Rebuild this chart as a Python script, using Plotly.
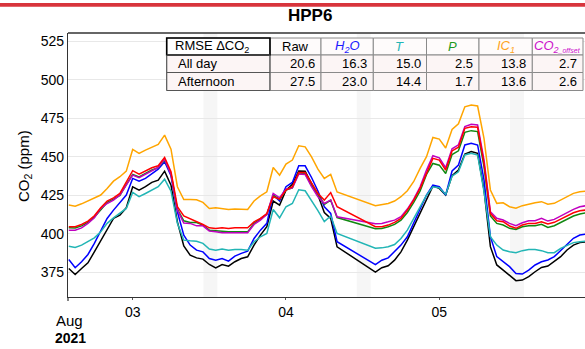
import pandas as pd
import plotly.graph_objects as go

# Hours since 2021-08-02 00:00 (hourly means; no data between 08:00 and 14:00 on Aug 4)
hours = list(range(14, 57)) + list(range(62, 96))

raw = [377.5, 373.6, 377.5, 381.2, 388.3, 395.5, 403.5, 410.0, 412.2, 416.9,
       430.6, 428.4, 430.6, 433.4, 434.9, 440.7, 431.6, 407.8, 392.2, 386.2,
       384.4, 383.6, 380.1, 377.9, 380.1, 379.0, 381.9, 384.0, 385.1, 392.7,
       399.2, 404.6, 421.3, 418.7, 428.4, 432.1, 440.8, 440.6, 432.7, 425.2,
       413.8, 410.0, 391.6,
       375.2, 378.0, 379.3, 382.9, 388.3, 395.9, 404.6, 413.3, 423.0, 431.0,
       429.5, 425.2, 437.8, 441.4, 451.8, 453.4, 452.3, 428.5, 391.7, 379.8,
       376.5, 373.3, 369.6, 370.0, 372.2, 375.4, 378.2, 379.1, 381.9, 385.2,
       389.5, 392.7, 394.3, 394.9]
h2o = [383.4, 378.0, 381.9, 386.6, 393.8, 402.4, 410.0, 415.4, 420.4, 425.2,
       436.0, 434.2, 436.0, 439.2, 442.0, 446.8, 437.7, 414.3, 399.2, 392.7,
       389.4, 388.3, 384.0, 382.9, 384.0, 382.3, 385.5, 387.3, 388.8, 397.0,
       402.4, 406.8, 425.2, 421.3, 430.6, 433.4, 444.2, 444.2, 436.6, 427.8,
       417.6, 413.3, 394.9,
       380.0, 382.9, 384.4, 388.3, 392.7, 398.1, 406.8, 415.4, 425.2, 431.6,
       430.6, 425.2, 440.8, 444.7, 457.7, 458.8, 457.7, 435.0, 398.2, 385.2,
       381.9, 378.7, 374.3, 373.9, 376.5, 379.8, 381.9, 383.0, 385.2, 389.1,
       393.4, 397.1, 399.2, 399.9]
temp = [392.0, 391.2, 392.7, 394.8, 397.4, 401.3, 406.8, 410.4, 413.2, 416.5,
        426.9, 424.1, 426.2, 428.4, 430.6, 435.5, 427.7, 406.8, 395.9, 395.5,
        395.2, 393.8, 390.1, 389.4, 390.1, 389.4, 389.9, 389.9, 389.4, 394.8,
        398.1, 400.3, 415.8, 410.4, 417.6, 419.7, 428.6, 428.0, 421.9, 415.1,
        407.9, 411.6, 400.3,
        390.7, 390.9, 391.6, 393.1, 397.0, 402.4, 410.0, 417.6, 425.2, 430.6,
        429.9, 425.6, 437.4, 440.3, 451.2, 452.3, 451.2, 427.4, 398.2, 392.7,
        389.5, 388.4, 387.8, 389.1, 389.9, 389.9, 389.1, 387.8, 387.8, 390.6,
        392.7, 394.3, 394.9, 395.3]
pres = [404.0, 403.8, 405.2, 407.5, 410.8, 415.8, 420.4, 422.5, 425.0, 432.0,
        438.6, 436.9, 439.0, 441.5, 443.0, 447.9, 439.0, 416.0, 408.5, 407.4,
        407.4, 405.7, 402.4, 402.0, 401.8, 401.3, 401.3, 401.3, 401.3, 406.8,
        409.6, 412.6, 425.2, 422.5, 428.4, 429.9, 439.7, 439.0, 431.7, 425.2,
        419.1, 421.9, 410.6,
        403.3, 403.5, 404.6, 406.1, 408.9, 413.9, 420.4, 427.8, 438.6, 445.7,
        444.6, 439.2, 451.5, 453.9, 465.9, 467.0, 466.4, 443.6, 411.6, 406.8,
        405.7, 403.6, 402.9, 404.6, 405.3, 405.3, 406.2, 404.2, 405.3, 407.5,
        409.6, 411.6, 412.9, 413.7]
ic1 = [418.7, 418.0, 419.5, 421.3, 423.0, 425.2, 429.5, 434.2, 437.1, 440.7,
       454.8, 452.2, 454.4, 456.5, 458.1, 464.1, 455.0, 430.6, 422.3, 422.3,
       422.1, 420.4, 416.5, 416.9, 416.5, 415.8, 416.1, 416.1, 415.8, 421.3,
       424.7, 427.3, 443.1, 438.1, 445.3, 447.9, 457.2, 456.5, 450.0, 442.0,
       436.0, 438.6, 427.2,
       418.2, 419.1, 419.7, 421.3, 424.1, 428.0, 434.0, 442.5, 450.1, 462.6,
       461.5, 455.7, 467.8, 471.5, 482.5, 483.7, 483.0, 462.0, 428.5, 419.8,
       420.2, 417.6, 416.6, 418.3, 419.4, 420.2, 420.9, 419.2, 419.8, 422.0,
       424.1, 426.3, 427.4, 427.8]
offset = [402.4, 402.4, 403.9, 406.8, 410.4, 416.5, 419.7, 421.9, 425.2, 431.5,
          438.1, 436.4, 438.6, 441.2, 443.1, 448.5, 438.6, 415.4, 407.0, 406.8,
          405.2, 405.2, 401.8, 401.3, 400.7, 400.7, 400.7, 400.7, 400.7, 406.1,
          408.9, 412.6, 426.2, 423.4, 429.0, 429.9, 438.8, 438.6, 430.6, 424.1,
          419.7, 422.0, 411.1,
          406.6, 406.8, 407.8, 408.9, 411.1, 416.1, 422.6, 430.6, 441.4, 450.7,
          449.4, 442.9, 455.2, 457.8, 469.6, 471.1, 470.7, 448.0, 414.4, 410.1,
          409.0, 406.8, 405.3, 407.2, 408.5, 408.5, 410.1, 408.3, 409.4, 411.6,
          413.7, 415.9, 417.6, 418.3]
reference = [404.6, 404.6, 406.1, 408.3, 411.7, 416.9, 421.3, 423.4, 426.2, 433.4,
             441.0, 438.8, 440.7, 442.9, 444.2, 449.6, 440.3, 417.6, 411.7, 410.0,
             407.8, 406.1, 403.9, 403.5, 403.9, 403.5, 403.9, 403.9, 403.9, 407.8,
             410.0, 413.2, 424.1, 422.5, 428.4, 430.6, 439.9, 439.9, 433.4, 426.2,
             421.9, 426.8, 417.6,
             404.6, 404.6, 405.7, 407.4, 410.0, 415.4, 421.9, 429.5, 439.9, 449.0,
             447.9, 441.4, 453.8, 456.3, 468.5, 469.6, 469.2, 445.8, 413.3, 408.5,
             407.9, 405.1, 403.6, 405.7, 406.8, 406.8, 407.9, 406.4, 407.5, 409.4,
             411.6, 413.7, 415.0, 415.5]

# RMSE table
table_cols = ["Raw", "H<sub>2</sub>O", "T", "P", "IC<sub>1</sub>",
              "CO<sub>2<span style='font-size:7px'>_offset</span></sub>"]
table_col_colors = ["#000000", "#1a1aff", "#22b5b5", "#1f9a1f", "#ffa31a", "#cc11cc"]
table_rows = ["All day", "Afternoon"]
rmse_all_day = [20.6, 16.3, 15.0, 2.5, 13.8, 2.7]
rmse_afternoon = [27.5, 23.0, 14.4, 1.7, 13.6, 2.6]

# Midday shading windows (start, end)
bands = [("2021-08-03 11:05", "2021-08-03 13:15"),
         ("2021-08-04 11:05", "2021-08-04 13:15"),
         ("2021-08-05 11:05", "2021-08-05 13:15")]

t0 = pd.Timestamp("2021-08-02")
times = [t0 + pd.Timedelta(hours=h) for h in hours]

series = [
    ("Raw", raw, "#000000"),
    ("H2O", h2o, "#0000ff"),
    ("T", temp, "#22b5b5"),
    ("P", pres, "#118811"),
    ("IC1", ic1, "#ffa500"),
    ("CO2_offset", offset, "#c000c0"),
    ("Reference", reference, "#ff0000"),
]

W_FIG, H_FIG = 585, 349
L, R, T, B = 68, 585, 33, 297
FONT = "Liberation Sans, Arial, sans-serif"


def px(x):
    return (x - L) / (R - L)


def py(y):
    return (B - y) / (B - T)


fig = go.Figure()
for name, vals, col in series:
    fig.add_trace(go.Scatter(x=times, y=vals, mode="lines", name=name,
                             line=dict(color=col, width=1.5), showlegend=False))

shapes = []
for s, e in bands:
    shapes.append(dict(type="rect", xref="x", yref="paper", x0=s, x1=e, y0=0, y1=1,
                       fillcolor="#f6f6f6", line=dict(width=0), layer="below"))

# top frame line and red separator strip
shapes.append(dict(type="line", xref="paper", yref="paper", x0=0, x1=1, y0=1, y1=1,
                   line=dict(color="#333333", width=1.3)))
shapes.append(dict(type="rect", xref="paper", yref="paper", x0=px(-2), x1=px(590),
                   y0=py(6.7), y1=py(3), fillcolor="#d8343c", line=dict(width=0)))
# left-edge tick
shapes.append(dict(type="line", xref="paper", yref="paper", x0=0, x1=0, y0=py(297), y1=py(301),
                   line=dict(color="#333333", width=1.2)))

# table geometry
col_edges = [166.7, 270, 321, 373.3, 426.5, 479, 532.3, 583]
row_edges = [38, 55, 72.5, 90.5]
for r in range(3):
    for c in range(7):
        if r == 0:
            fill = "#ffffff" if c == 0 else "#fefbfb"
        else:
            fill = "#fcf5f5"
        shapes.append(dict(type="rect", xref="paper", yref="paper",
                           x0=px(col_edges[c]), x1=px(col_edges[c + 1]),
                           y0=py(row_edges[r + 1]), y1=py(row_edges[r]),
                           fillcolor=fill, line=dict(color="#8a8a8a", width=1), layer="above"))
# first column darker borders
for r in range(3):
    shapes.append(dict(type="rect", xref="paper", yref="paper",
                       x0=px(col_edges[0]), x1=px(col_edges[1]),
                       y0=py(row_edges[r + 1]), y1=py(row_edges[r]),
                       line=dict(color="#000000" if r == 0 else "#555555",
                                 width=1.6 if r == 0 else 1), layer="above"))

annotations = []
fs = 13
annotations.append(dict(text="RMSE ΔCO<sub>2</sub>", x=px(col_edges[0] + 6),
                        y=py((row_edges[0] + row_edges[1]) / 2), xanchor="left", yanchor="middle",
                        xref="paper", yref="paper", showarrow=False,
                        font=dict(size=fs, color="#000000", family=FONT)))
for c, (lab, colr) in enumerate(zip(table_cols, table_col_colors)):
    txt = lab if c == 0 else "<i>" + lab + "</i>"
    annotations.append(dict(text=txt, x=px((col_edges[c + 1] + col_edges[c + 2]) / 2),
                            y=py((row_edges[0] + row_edges[1]) / 2), xanchor="center",
                            yanchor="middle", xref="paper", yref="paper", showarrow=False,
                            font=dict(size=fs, color=colr, family=FONT)))
for r, (lab, vals) in enumerate(zip(table_rows, [rmse_all_day, rmse_afternoon])):
    yc = py((row_edges[r + 1] + row_edges[r + 2]) / 2)
    annotations.append(dict(text=lab, x=px(col_edges[0] + 9), y=yc, xanchor="left",
                            yanchor="middle", xref="paper", yref="paper", showarrow=False,
                            font=dict(size=fs, color="#000000", family=FONT)))
    for c, v in enumerate(vals):
        annotations.append(dict(text=f"{v:.1f}", x=px(col_edges[c + 2] - 4), y=yc,
                                xanchor="right", yanchor="middle", xref="paper", yref="paper",
                                showarrow=False, font=dict(size=fs, color="#000000", family=FONT)))

# titles and date labels
annotations += [
    dict(text="<b>HPP6</b>", x=px(310), y=py(16), xref="paper", yref="paper",
         xanchor="center", yanchor="middle", showarrow=False,
         font=dict(size=17, color="#000000", family=FONT)),
    dict(text="<b>2020</b>", x=px(69), y=py(2.5), xref="paper", yref="paper",
         xanchor="center", yanchor="bottom", showarrow=False,
         font=dict(size=15, color="#000000", family=FONT)),
    dict(text="CO<sub>2</sub> (ppm)", x=px(24), y=py(166), xref="paper", yref="paper",
         xanchor="center", yanchor="middle", textangle=-90, showarrow=False,
         font=dict(size=15, color="#000000", family=FONT)),
    dict(text="Aug", x=px(69), y=py(320), xref="paper", yref="paper",
         xanchor="center", yanchor="middle", showarrow=False,
         font=dict(size=15, color="#000000", family=FONT)),
    dict(text="<b>2021</b>", x=px(70), y=py(338), xref="paper", yref="paper",
         xanchor="center", yanchor="middle", showarrow=False,
         font=dict(size=14, color="#000000", family=FONT)),
]

fig.update_layout(
    width=W_FIG, height=H_FIG,
    margin=dict(l=L, r=W_FIG - R, t=T, b=H_FIG - B, pad=0),
    paper_bgcolor="white", plot_bgcolor="white",
    font=dict(family=FONT, size=14, color="#000000"),
    shapes=shapes, annotations=annotations,
    xaxis=dict(type="date", range=["2021-08-02 13:52:30", "2021-08-05 22:48:40"],
               tickvals=["2021-08-03", "2021-08-04", "2021-08-05"],
               ticktext=["03", "04", "05"], ticks="outside", ticklen=2,
               tickcolor="#555555", showgrid=False, zeroline=False,
               showline=True, linecolor="#333333", linewidth=1.3,
               tickfont=dict(size=14, color="#000000")),
    yaxis=dict(range=[359.0, 530.4], tickvals=[375, 400, 425, 450, 475, 500, 525],
               showgrid=True, gridcolor="#e8e8e8", gridwidth=1, zeroline=False,
               showline=True, linecolor="#333333", linewidth=1.3, ticks="",
               tickfont=dict(size=14, color="#000000")),
)

fig.write_html("out.html")
